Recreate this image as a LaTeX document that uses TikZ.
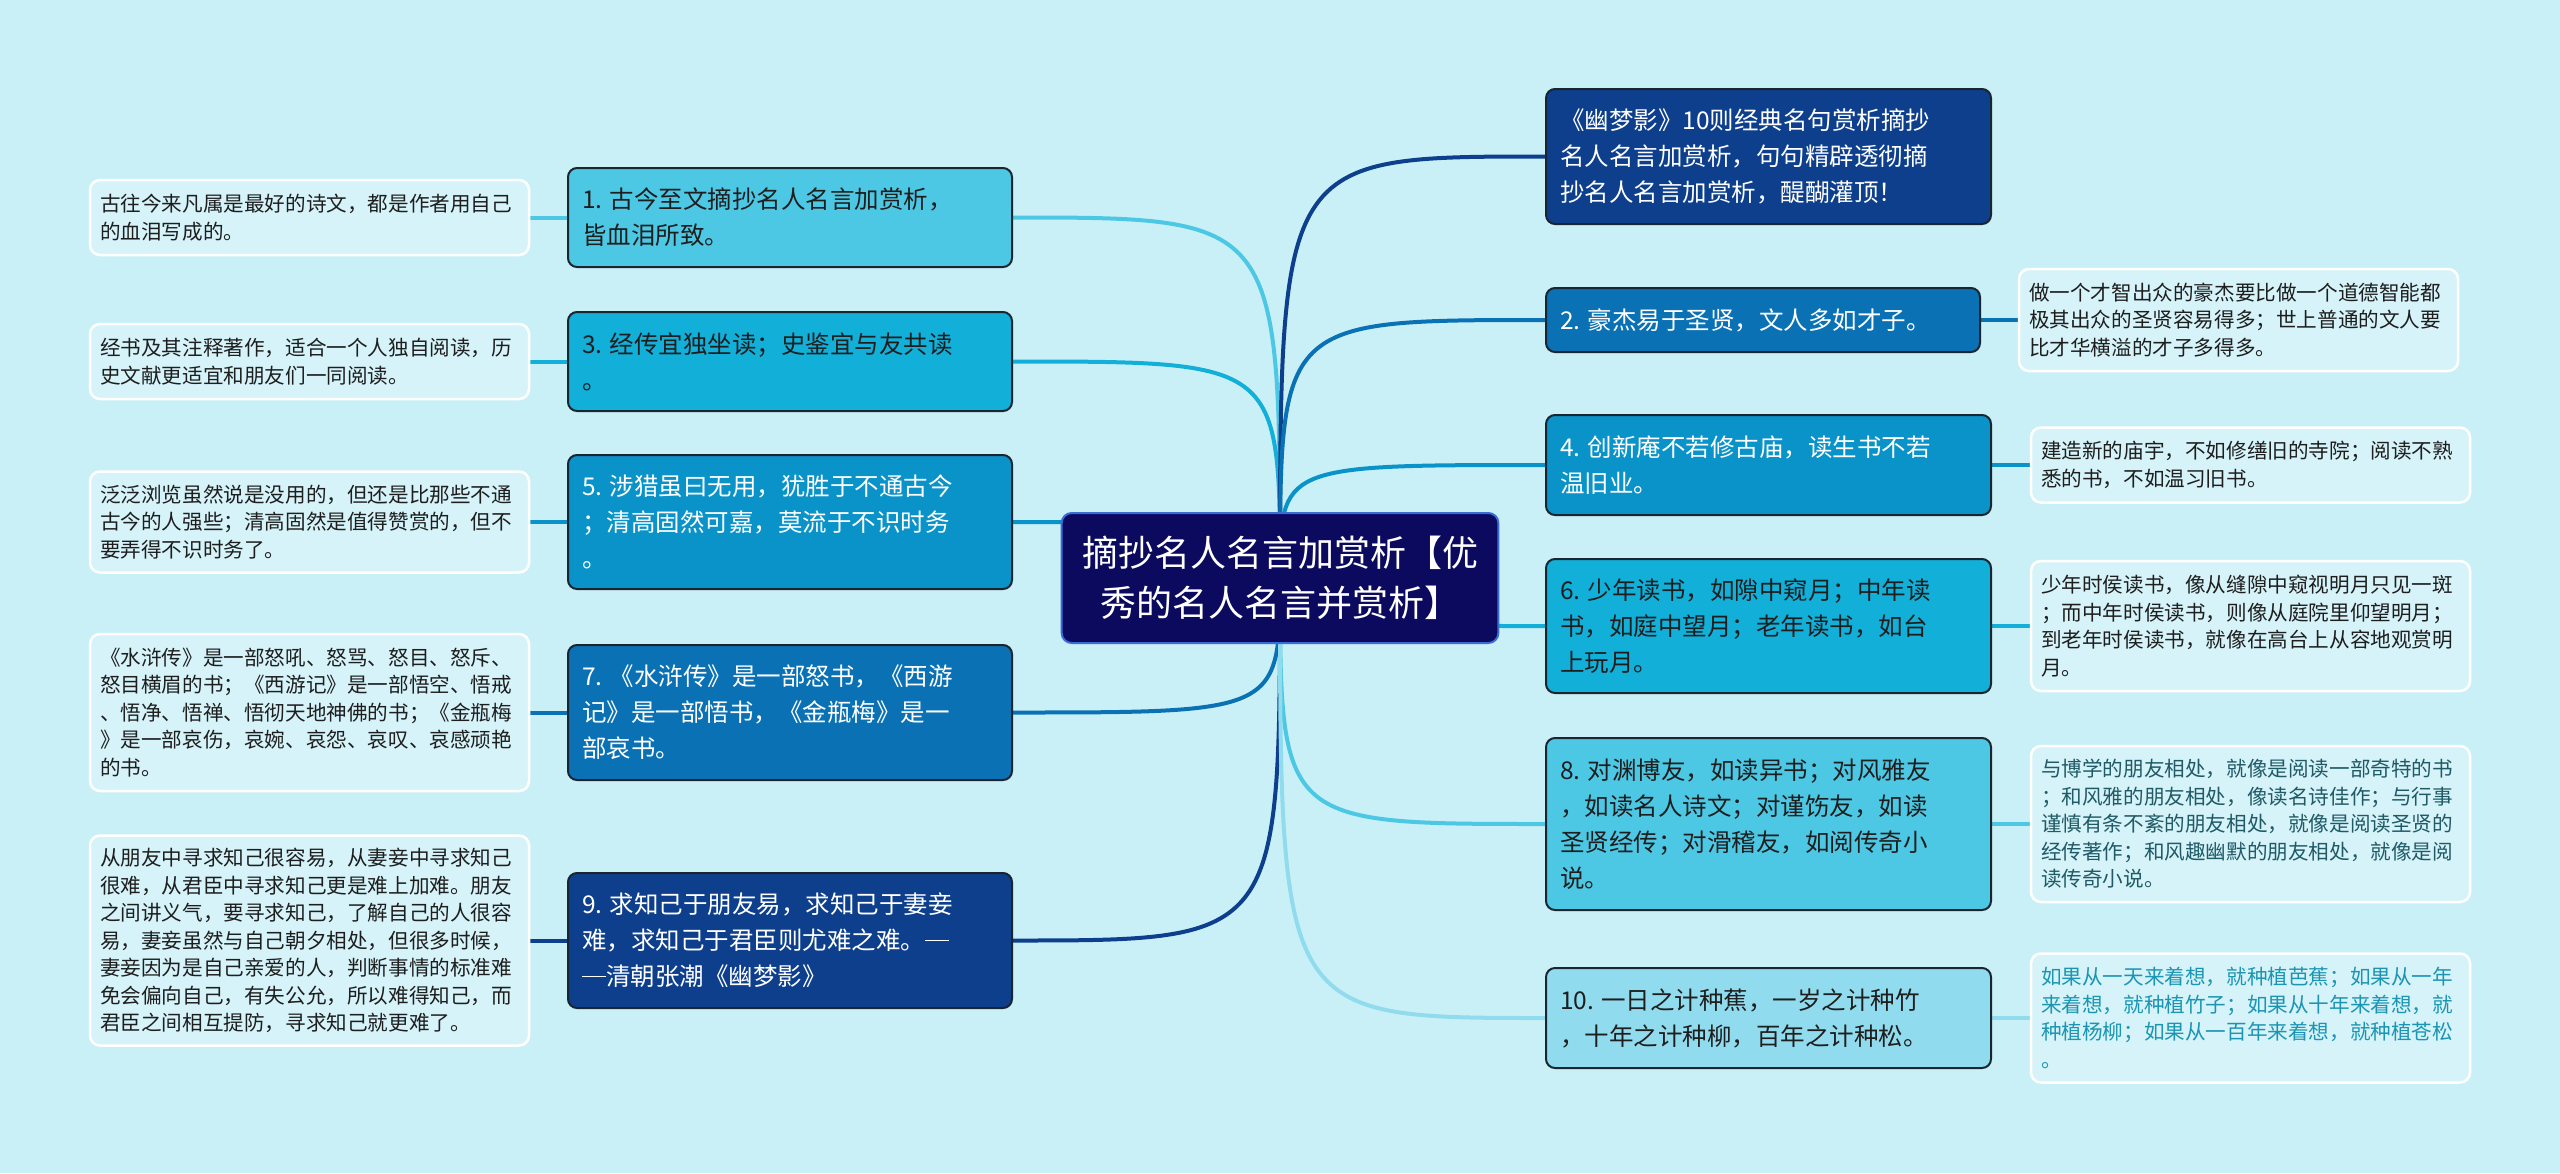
\documentclass[tikz,border=0pt]{standalone}
\usepackage{fontspec}
\setmainfont{Noto Sans CJK SC}
\usetikzlibrary{backgrounds}
\definecolor{bgc}{HTML}{C9F0F7}
\definecolor{leaffill}{HTML}{D5F3F9}
\definecolor{cA}{HTML}{4DC8E4}
\definecolor{cB}{HTML}{12AFD8}
\definecolor{cC}{HTML}{0A93C9}
\definecolor{cD}{HTML}{0A72B4}
\definecolor{cE}{HTML}{0D3F8C}
\definecolor{cF}{HTML}{90DCEE}
\definecolor{ctrfill}{HTML}{0B0A5E}
\definecolor{ctrdraw}{HTML}{3A6BD6}
\definecolor{boxdraw}{HTML}{1A2530}
\definecolor{darktext}{HTML}{1E1E1E}
\definecolor{slatetext}{HTML}{1F5A66}
\definecolor{tealtext}{HTML}{1B95B3}
\newcommand{\numgap}{\hspace{0.3em}}
\newcommand{\wdash}{\rule[0.36em]{0.98em}{0.055em}}
\tikzset{
  mainbox/.style={rounded corners=9pt, draw=boxdraw, line width=2pt, inner xsep=14pt, inner ysep=4pt,
    align=left, font=\fontsize{24.5pt}{36pt}\selectfont},
  leafbox/.style={rounded corners=10pt, draw=white, line width=2.5pt, fill=leaffill, inner xsep=10pt, inner ysep=4pt,
    align=left, text width=419pt, text=darktext, font=\fontsize{20.6pt}{27.5pt}\selectfont},
  ctrbox/.style={rounded corners=10pt, draw=ctrdraw, line width=2pt, fill=ctrfill, text=white,
    align=center, text width=430pt, minimum height=130pt, font=\fontsize{36pt}{50pt}\selectfont},
  conn/.style={line width=4pt},
  leafconn/.style={line width=4pt},
}
\begin{document}
\begin{tikzpicture}[x=1pt,y=-1pt]
\useasboundingbox (0,0) rectangle (2560,1173);
% centre
\node[ctrbox] (ctr) at (1280,578) {摘抄名人名言加赏析【优\\秀的名人名言并赏析】};
% left main nodes
\node[mainbox, fill=cA, text=darktext, text width=416pt, minimum height=99pt] (n1) at (790,217.5)
  {1.\numgap 古今至文摘抄名人名言加赏析，\\皆血泪所致。};
\node[mainbox, fill=cB, text=darktext, text width=416pt, minimum height=99pt] (n3) at (790,361.5)
  {3.\numgap 经传宜独坐读；史鉴宜与友共读\\。};
\node[mainbox, fill=cC, text=white, text width=416pt, minimum height=134pt] (n5) at (790,522)
  {5.\numgap 涉猎虽曰无用，犹胜于不通古今\\；清高固然可嘉，莫流于不识时务\\。};
\node[mainbox, fill=cD, text=white, text width=416pt, minimum height=135pt] (n7) at (790,712.5)
  {7.\numgap 《水浒传》是一部怒书，《西游\\记》是一部悟书，《金瓶梅》是一\\部哀书。};
\node[mainbox, fill=cE, text=white, text width=416pt, minimum height=135pt] (n9) at (790,940.5)
  {9.\numgap 求知己于朋友易，求知己于妻妾\\难，求知己于君臣则尤难之难。\wdash\\\wdash 清朝张潮《幽梦影》};
% right main nodes
\node[mainbox, fill=cE, text=white, text width=417pt, minimum height=135pt] (r0) at (1768.5,156.5)
  {《幽梦影》10则经典名句赏析摘抄\\名人名言加赏析，句句精辟透彻摘\\抄名人名言加赏析，醍醐灌顶！};
\node[mainbox, fill=cD, text=white, text width=406pt, minimum height=64pt] (r2) at (1763,320)
  {2.\numgap 豪杰易于圣贤，文人多如才子。};
\node[mainbox, fill=cC, text=white, text width=417pt, minimum height=100pt] (r4) at (1768.5,465)
  {4.\numgap 创新庵不若修古庙，读生书不若\\温旧业。};
\node[mainbox, fill=cB, text=darktext, text width=417pt, minimum height=134pt] (r6) at (1768.5,626)
  {6.\numgap 少年读书，如隙中窥月；中年读\\书，如庭中望月；老年读书，如台\\上玩月。};
\node[mainbox, fill=cA, text=darktext, text width=417pt, minimum height=172pt] (r8) at (1768.5,824)
  {8.\numgap 对渊博友，如读异书；对风雅友\\，如读名人诗文；对谨饬友，如读\\圣贤经传；对滑稽友，如阅传奇小\\说。};
\node[mainbox, fill=cF, text=darktext, text width=417pt, minimum height=100pt] (r10) at (1768.5,1018)
  {10.\numgap 一日之计种蕉，一岁之计种竹\\，十年之计种柳，百年之计种松。};
% left leaves
\node[leafbox, minimum height=75pt] (l1) at (309.5,217.5)
  {古往今来凡属是最好的诗文，都是作者用自己\\的血泪写成的。};
\node[leafbox, minimum height=75pt] (l3) at (309.5,361.5)
  {经书及其注释著作，适合一个人独自阅读，历\\史文献更适宜和朋友们一同阅读。};
\node[leafbox, minimum height=101pt] (l5) at (309.5,522)
  {泛泛浏览虽然说是没用的，但还是比那些不通\\古今的人强些；清高固然是值得赞赏的，但不\\要弄得不识时务了。};
\node[leafbox, minimum height=157pt] (l7) at (309.5,712.5)
  {《水浒传》是一部怒吼、怒骂、怒目、怒斥、\\怒目横眉的书；《西游记》是一部悟空、悟戒\\、悟净、悟禅、悟彻天地神佛的书；《金瓶梅\\》是一部哀伤，哀婉、哀怨、哀叹、哀感顽艳\\的书。};
\node[leafbox, minimum height=210pt] (l9) at (309.5,940.5)
  {从朋友中寻求知己很容易，从妻妾中寻求知己\\很难，从君臣中寻求知己更是难上加难。朋友\\之间讲义气，要寻求知己，了解自己的人很容\\易，妻妾虽然与自己朝夕相处，但很多时候，\\妻妾因为是自己亲爱的人，判断事情的标准难\\免会偏向自己，有失公允，所以难得知己，而\\君臣之间相互提防，寻求知己就更难了。};
% right leaves
\node[leafbox, minimum height=102pt] (k2) at (2238.5,320)
  {做一个才智出众的豪杰要比做一个道德智能都\\极其出众的圣贤容易得多；世上普通的文人要\\比才华横溢的才子多得多。};
\node[leafbox, minimum height=75pt] (k4) at (2250.5,465)
  {建造新的庙宇，不如修缮旧的寺院；阅读不熟\\悉的书，不如温习旧书。};
\node[leafbox, minimum height=130pt] (k6) at (2250.5,626)
  {少年时侯读书，像从缝隙中窥视明月只见一斑\\；而中年时侯读书，则像从庭院里仰望明月；\\到老年时侯读书，就像在高台上从容地观赏明\\月。};
\node[leafbox, minimum height=156pt, text=slatetext] (k8) at (2250.5,824)
  {与博学的朋友相处，就像是阅读一部奇特的书\\；和风雅的朋友相处，像读名诗佳作；与行事\\谨慎有条不紊的朋友相处，就像是阅读圣贤的\\经传著作；和风趣幽默的朋友相处，就像是阅\\读传奇小说。};
\node[leafbox, minimum height=129pt, text=tealtext] (k10) at (2250.5,1018)
  {如果从一天来着想，就种植芭蕉；如果从一年\\来着想，就种植竹子；如果从十年来着想，就\\种植杨柳；如果从一百年来着想，就种植苍松\\。};
\begin{pgfonlayer}{background}
\fill[bgc] (0,0) rectangle (2560,1173);
% centre connectors
\draw[conn, cA] (ctr.center) .. controls (ctr.center |- n1.east) .. (n1.east);
\draw[conn, cB] (ctr.center) .. controls (ctr.center |- n3.east) .. (n3.east);
\draw[conn, cC] (ctr.center) .. controls (ctr.center |- n5.east) .. (n5.east);
\draw[conn, cD] (ctr.center) .. controls (ctr.center |- n7.east) .. (n7.east);
\draw[conn, cE] (ctr.center) .. controls (ctr.center |- n9.east) .. (n9.east);
\draw[conn, cE] (ctr.center) .. controls (ctr.center |- r0.west) .. (r0.west);
\draw[conn, cD] (ctr.center) .. controls (ctr.center |- r2.west) .. (r2.west);
\draw[conn, cC] (ctr.center) .. controls (ctr.center |- r4.west) .. (r4.west);
\draw[conn, cB] (ctr.center) .. controls (ctr.center |- r6.west) .. (r6.west);
\draw[conn, cA] (ctr.center) .. controls (ctr.center |- r8.west) .. (r8.west);
\draw[conn, cF] (ctr.center) .. controls (ctr.center |- r10.west) .. (r10.west);
% leaf connectors
\draw[leafconn, cA] (n1.west) -- (l1.east);
\draw[leafconn, cB] (n3.west) -- (l3.east);
\draw[leafconn, cC] (n5.west) -- (l5.east);
\draw[leafconn, cD] (n7.west) -- (l7.east);
\draw[leafconn, cE] (n9.west) -- (l9.east);
\draw[leafconn, cD] (r2.east) -- (k2.west);
\draw[leafconn, cC] (r4.east) -- (k4.west);
\draw[leafconn, cB] (r6.east) -- (k6.west);
\draw[leafconn, cA] (r8.east) -- (k8.west);
\draw[leafconn, cF] (r10.east) -- (k10.west);
\end{pgfonlayer}
\end{tikzpicture}
\end{document}
